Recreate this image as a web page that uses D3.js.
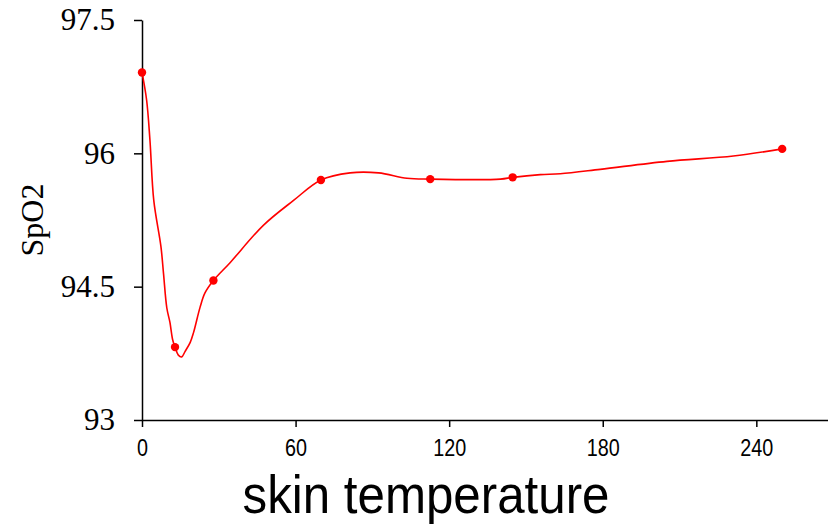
<!DOCTYPE html>
<html lang="en">
<head>
<meta charset="UTF-8">
<title>SpO2 vs skin temperature</title>
<script src="https://cdn.jsdelivr.net/npm/d3@7"></script>
<style>
  body { margin: 0; background: #fff; }
</style>
</head>
<body>
<div id="chart"></div>
<script>
// measured points (markers)
const markerX = [0, 12.9, 27.9, 69.9, 112.6, 144.8, 250.1];
const markerY = [96.91, 93.82, 94.57, 95.70, 95.71, 95.73, 96.05];

// fitted line
const lineX = [0, 1.8, 3.1, 4.6, 7.4, 8.4, 9.7, 10.9, 12.0, 12.9, 14.2, 15.5, 16.8, 18.8, 20.1, 22.7, 24.6, 27.9,
               34.4, 47.4, 59.2, 69.9, 81.3, 92.4, 103.5, 112.6, 140, 144.8, 155.6, 163.4, 179, 205.1, 231, 250.1];
const lineY = [96.91, 96.60, 96.15, 95.47, 94.95, 94.65, 94.26, 94.10, 93.90, 93.82, 93.73, 93.71, 93.77, 93.87, 93.98, 94.27, 94.43, 94.57,
               94.77, 95.19, 95.47, 95.70, 95.78, 95.78, 95.72, 95.71, 95.71, 95.73, 95.76, 95.77, 95.82, 95.91, 95.97, 96.05];

const xTicks = [0, 60, 120, 180, 240];
const yTicks = [93, 94.5, 96, 97.5];

const width = 828, height = 526;

const svg = d3.select("#chart").append("svg")
    .attr("width", width)
    .attr("height", height);

const x = d3.scaleLinear().domain([0, 268]).range([142, 828]);
const y = d3.scaleLinear().domain([93, 97.5]).range([420, 20]);

// y axis
const yAxis = svg.append("g")
    .attr("transform", "translate(142,0)")
    .call(d3.axisLeft(y).tickValues(yTicks).tickFormat(d3.format("~g"))
        .tickSize(8).tickSizeOuter(0).tickPadding(19));
yAxis.selectAll("text")
    .attr("font-family", "'Liberation Serif', 'Times New Roman', serif")
    .attr("font-size", 31)
    .attr("fill", "#000");

// x axis
const xAxis = svg.append("g")
    .attr("transform", "translate(0,420)")
    .call(d3.axisBottom(x).tickValues(xTicks)
        .tickSize(7).tickSizeOuter(0).tickPadding(13));
xAxis.selectAll("text")
    .attr("font-family", "'Liberation Sans', Arial, sans-serif")
    .attr("font-size", 23)
    .attr("transform", "scale(0.86,1)")
    .attr("fill", "#000");

svg.selectAll(".domain, .tick line")
    .attr("stroke", "#000")
    .attr("stroke-width", 1.5);

// fitted curve
const pts = lineX.map((d, i) => [d, lineY[i]]);
svg.append("path")
    .datum(pts)
    .attr("fill", "none")
    .attr("stroke", "#ff0000")
    .attr("stroke-width", 1.6)
    .attr("d", d3.line().x(d => x(d[0])).y(d => y(d[1])).curve(d3.curveCatmullRom.alpha(0.5)));

// markers
svg.selectAll("circle.m")
    .data(markerX.map((d, i) => [d, markerY[i]]))
    .join("circle")
    .attr("class", "m")
    .attr("cx", d => x(d[0]))
    .attr("cy", d => y(d[1]))
    .attr("r", 4.2)
    .attr("fill", "#ff0000");

// axis titles
svg.append("text")
    .attr("transform", "translate(43,220) rotate(-90)")
    .attr("text-anchor", "middle")
    .attr("font-family", "'Liberation Serif', 'Times New Roman', serif")
    .attr("font-size", 32)
    .text("SpO2");

svg.append("text")
    .attr("x", 426)
    .attr("y", 513)
    .attr("text-anchor", "middle")
    .attr("font-family", "'Liberation Sans', Arial, sans-serif")
    .attr("font-size", 53)
    .attr("textLength", 367)
    .attr("lengthAdjust", "spacingAndGlyphs")
    .text("skin temperature");
</script>
</body>
</html>
